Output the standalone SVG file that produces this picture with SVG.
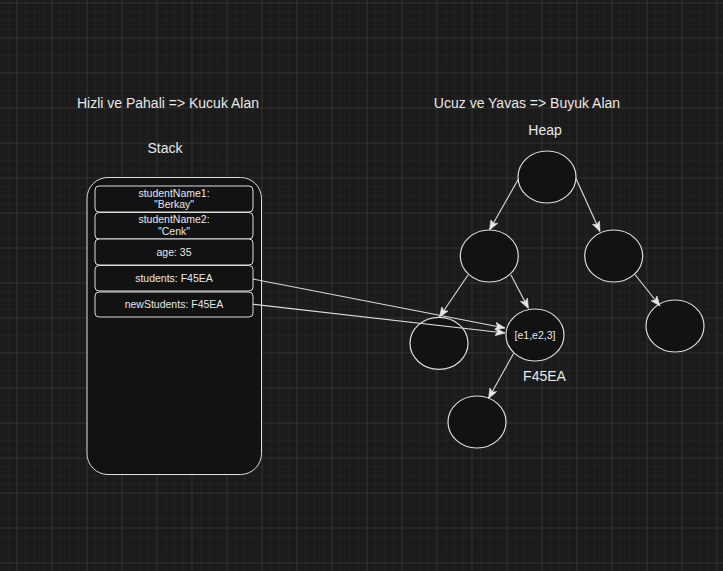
<svg xmlns="http://www.w3.org/2000/svg" width="723" height="571" viewBox="0 0 723 571">
<defs>
<pattern id="minor" patternUnits="userSpaceOnUse" x="16.5" y="2.5" width="8.75" height="8.75">
<path d="M0,0 H8.75 M0,0 V8.75" stroke="#282828" stroke-width="1" fill="none"/>
</pattern>
<pattern id="major" patternUnits="userSpaceOnUse" x="16.5" y="2.5" width="35" height="35">
<path d="M0,0 H35 M0,0 V35" stroke="#3d3d3d" stroke-width="1" fill="none"/>
</pattern>
<marker id="arr" markerUnits="userSpaceOnUse" viewBox="0 0 10 8" markerWidth="10" markerHeight="8" refX="10" refY="4" orient="auto">
<path d="M0,0 L10,4 L0,8 L2.5,4 Z" fill="#e6e6e6" stroke="#e6e6e6" stroke-width="0.5"/>
</marker>
</defs>
<style>
.t{font-family:"Liberation Sans",Arial,sans-serif;fill:#e8e8e8;text-anchor:middle}
.big{font-size:14px}
.sm{font-size:10.5px}
.box{fill:#121212;stroke:#dcdcdc;stroke-width:1}
.node{fill:#121212;stroke:#dcdcdc;stroke-width:1.2}
.edge{stroke:#dcdcdc;stroke-width:1.1;fill:none;marker-end:url(#arr)}
</style>
<rect width="723" height="571" fill="#1b1b1b"/>
<rect width="723" height="571" fill="url(#minor)"/>
<rect width="723" height="571" fill="url(#major)"/>

<g id="title-left"><text class="t big" x="168" y="108">Hizli ve Pahali =&gt; Kucuk Alan</text></g>
<g id="title-right"><text class="t big" x="527" y="108">Ucuz ve Yavas =&gt; Buyuk Alan</text></g>
<g id="label-stack"><text class="t big" x="165" y="153">Stack</text></g>
<g id="label-heap"><text class="t big" x="545" y="135">Heap</text></g>

<g id="stack">
<rect class="box" x="87" y="177.5" width="174.5" height="297" rx="21" ry="21"/>
</g>
<g id="var-studentName1">
<rect class="box" x="95" y="186" width="158" height="26" rx="4"/>
<text class="t sm" x="174" y="196.7">studentName1:</text>
<text class="t sm" x="174" y="208.3">"Berkay"</text>
</g>
<g id="var-studentName2">
<rect class="box" x="95" y="212.5" width="158" height="26.5" rx="4"/>
<text class="t sm" x="174" y="223.3">studentName2:</text>
<text class="t sm" x="174" y="235">"Cenk"</text>
</g>
<g id="var-age">
<rect class="box" x="95" y="239" width="158" height="26" rx="4"/>
<text class="t sm" x="174" y="255.5">age: 35</text>
</g>
<g id="var-students">
<rect class="box" x="95" y="265.5" width="158" height="25.5" rx="4"/>
<text class="t sm" x="174" y="281.5">students: F45EA</text>
</g>
<g id="var-newStudents">
<rect class="box" x="95" y="292" width="158" height="25" rx="4"/>
<text class="t sm" x="174" y="308">newStudents: F45EA</text>
</g>

<g id="heap-root"><ellipse class="node" cx="547" cy="177" rx="29" ry="26"/></g>
<g id="heap-left"><ellipse class="node" cx="489.3" cy="256" rx="29" ry="26"/></g>
<g id="heap-right"><ellipse class="node" cx="613.7" cy="256" rx="29" ry="26"/></g>
<g id="heap-left-left"><ellipse class="node" cx="439" cy="343.3" rx="29" ry="26"/></g>
<g id="heap-F45EA">
<ellipse class="node" cx="535" cy="335" rx="29" ry="26"/>
<text class="t sm" x="535" y="339">[e1,e2,3]</text>
</g>
<g id="heap-right-right"><ellipse class="node" cx="675" cy="326" rx="29" ry="26"/></g>
<g id="heap-bottom"><ellipse class="node" cx="477" cy="422" rx="29" ry="26"/></g>
<g id="label-F45EA"><text class="t big" x="544.5" y="381">F45EA</text></g>

<g id="connectors">
<path class="edge" d="M518.5,179 L489.5,230"/>
<path class="edge" d="M576,178.5 L600,231.5"/>
<path class="edge" d="M468,275 L439.5,317"/>
<path class="edge" d="M511,275 L528.5,308.5"/>
<path class="edge" d="M635,274.5 L660,306"/>
<path class="edge" d="M513.5,353.5 L488.5,398.5"/>
<path class="edge" d="M253,279 L505,328"/>
<path class="edge" d="M253,304.3 L505,333"/>
</g>
</svg>
